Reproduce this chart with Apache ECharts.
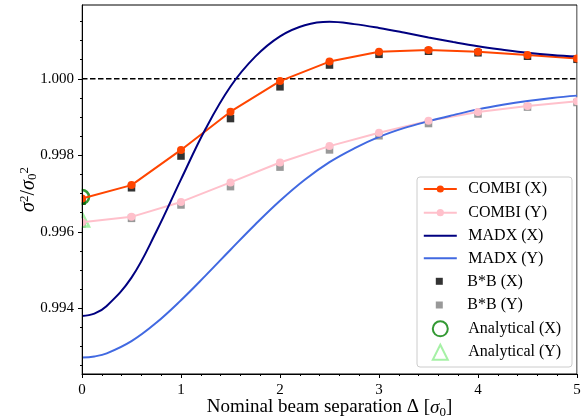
<!DOCTYPE html>
<html><head><meta charset="utf-8">
<script src="https://cdn.jsdelivr.net/npm/echarts@6/dist/echarts.min.js"></script>
<style>html,body{margin:0;padding:0;background:#fff}#c{width:585px;height:416px}</style>
</head><body><div id="c"></div>
<script>
// ---- data ----
const xSep = [0, 0.5, 1, 1.5, 2, 2.5, 3, 3.5, 4, 4.5, 5];
const combiX = [0.99687, 0.99722, 0.99814, 0.99914, 0.99994, 1.00045, 1.00071, 1.00075, 1.00071, 1.00062, 1.00053];
const combiY = [0.99625, 0.99639, 0.99678, 0.99729, 0.99781, 0.99824, 0.99859, 0.99890, 0.99913, 0.99929, 0.99941];
const bbX = [0.99680, 0.99715, 0.99798, 0.99896, 0.99979, 1.00036, 1.00064, 1.00072, 1.00068, 1.00059, 1.00051];
const bbY = [0.99620, 0.99635, 0.99670, 0.99718, 0.99769, 0.99814, 0.99851, 0.99883, 0.99908, 0.99926, 0.99938];
const xMadx = [0, 0.125, 0.25, 0.5, 0.75, 1, 1.25, 1.5, 1.75, 2, 2.25, 2.5, 2.75, 3, 3.25, 3.5, 3.75, 4, 4.25, 4.5, 4.75, 5];
const madxX = [0.99380, 0.99386, 0.99406, 0.99480, 0.99600, 0.99737, 0.99870, 0.99980, 1.00058, 1.00111, 1.00140, 1.00149, 1.00143, 1.00133, 1.00121, 1.00108, 1.00096, 1.00085, 1.00076, 1.00068, 1.00062, 1.00058];
const madxY = [0.99271, 0.99274, 0.99282, 0.99314, 0.99362, 0.99421, 0.99486, 0.99553, 0.99619, 0.99681, 0.99736, 0.99782, 0.99818, 0.99848, 0.99871, 0.99889, 0.99905, 0.99920, 0.99932, 0.99942, 0.99950, 0.99956];
const analyticalXSep = [0];
const analyticalX = [0.99691];
const analyticalY = [0.99632];
const refLevel = 1.0;
const xRange = [0, 5];
const yRange = [0.99228, 1.00193];
const xTicks = [0, 1, 2, 3, 4, 5];
const yMajorTicks = [0.994, 0.996, 0.998, 1.000];
const yMinorTicks = [0.9925, 0.993, 0.9935, 0.994, 0.9945, 0.995, 0.9955, 0.996, 0.9965, 0.997, 0.9975, 0.998, 0.9985, 0.999, 0.9995, 1.000, 1.0005, 1.001, 1.0015];
const names = ['COMBI (X)', 'COMBI (Y)', 'MADX (X)', 'MADX (Y)', 'B*B (X)', 'B*B (Y)', 'Analytical (X)', 'Analytical (Y)'];
const colors = ['#ff4500', '#ffc0cb', '#000080', '#4169e1', '#000000', '#808080', '#008000', '#90ee90'];

// ---- layout ----
const FONT = 'Liberation Serif';
const W = 585, H = 416;
const G = {left: 82, top: 5, right: 8, bottom: 42};
const pair = (xs, ys) => xs.map((x, i) => [x, ys[i]]);

const legendRows = [189, 212.7, 235.7, 258.3, 281.3, 305, 328.3, 351.7];
const iconCenterX = 439.3, textX = 467.3;
function legendFor(i, w, h, hideSymbol) {
  const left = iconCenterX - w / 2;
  const item = hideSymbol ? {name: names[i], itemStyle: {color: 'rgba(0,0,0,0)', borderWidth: 0, opacity: 0}} : {name: names[i]};
  return {
    data: [item], orient: 'vertical', left: left, top: legendRows[i] - 8,
    padding: 0, itemWidth: w, itemHeight: h, selectedMode: false, zlevel: 1, z: 6,
    textStyle: {fontFamily: FONT, fontSize: 16, color: '#000', padding: [0, 0, 0, textX - (left + w + 5)]}
  };
}

const option = {
  animation: false,
  grid: {left: G.left, top: G.top, right: G.right, bottom: G.bottom, show: true, borderColor: '#000', borderWidth: 1,
    backgroundColor: 'transparent', containLabel: false, outerBoundsMode: 'none'},
  xAxis: {
    type: 'value', min: xRange[0], max: xRange[1], interval: 1, zlevel: 1, z: 10,
    axisLine: {show: true, lineStyle: {color: '#000', width: 1}},
    axisTick: {show: true, length: 4, lineStyle: {color: '#000'}},
    minorTick: {show: true, splitNumber: 5, length: 2, lineStyle: {color: '#000'}},
    splitLine: {show: false}, minorSplitLine: {show: false},
    axisLabel: {fontFamily: FONT, fontSize: 15, color: '#000', margin: 9, formatter: v => xTicks.includes(v) ? String(v) : ''},
    name: 'Nominal beam separation Δ [{i|σ}{s|0}]', nameLocation: 'middle', nameGap: 22, nameMoveOverlap: false,
    nameTextStyle: {fontFamily: FONT, fontSize: 19, color: '#000',
      rich: {i: {fontFamily: FONT, fontSize: 19, fontStyle: 'italic'}, s: {fontFamily: FONT, fontSize: 13, verticalAlign: 'bottom', padding: [10, 0, 0, 0]}}}
  },
  yAxis: [{
    type: 'value', min: yRange[0], max: yRange[1], zlevel: 1, z: 10,
    axisLine: {show: true, lineStyle: {color: '#000', width: 1}},
    axisTick: {show: true, length: 4, lineStyle: {color: '#000'}, customValues: yMajorTicks},
    splitLine: {show: false},
    axisLabel: {fontFamily: FONT, fontSize: 15, color: '#000', margin: 8, customValues: yMajorTicks, formatter: v => v.toFixed(3)},
    name: '{i|σ}{p|2}/{i|σ}{s|0}{p|2}', nameLocation: 'middle', nameGap: 43, nameMoveOverlap: false,
    nameTextStyle: {fontFamily: FONT, fontSize: 20, color: '#000',
      rich: {i: {fontFamily: FONT, fontSize: 20, fontStyle: 'italic'},
             p: {fontFamily: FONT, fontSize: 13, verticalAlign: 'top'},
             s: {fontFamily: FONT, fontSize: 13, verticalAlign: 'bottom', padding: [8, 0, 0, 0]}}}
  }, {
    type: 'value', min: yRange[0], max: yRange[1], position: 'left', zlevel: 1, z: 10,
    axisLine: {show: false},
    axisTick: {show: true, length: 2, lineStyle: {color: '#000'}, customValues: yMinorTicks},
    axisLabel: {show: false}, splitLine: {show: false}
  }],
  legend: [
    legendFor(0, 33, 9), legendFor(1, 33, 9), legendFor(2, 33, 9, true), legendFor(3, 33, 9, true),
    legendFor(4, 7, 7), legendFor(5, 7, 7), legendFor(6, 15, 15), legendFor(7, 15, 15)
  ],
  graphic: [
    {type: 'rect', zlevel: 1, z: 5, shape: {x: 417, y: 177, width: 155, height: 190, r: 3}, style: {fill: 'rgba(255,255,255,0.8)', stroke: '#cccccc', lineWidth: 1}},
    {type: 'rect', zlevel: 1, z: 5, silent: true, shape: {x: 30, y: 1, width: G.left - 30 - 0.5, height: H - G.bottom - 1}, style: {fill: '#fff'}},
    {type: 'rect', zlevel: 1, z: 5, silent: true, shape: {x: W - G.right + 0.5, y: G.top, width: G.right, height: H - G.top - G.bottom}, style: {fill: '#fff'}}
  ],
  series: [
    {name: names[0], type: 'line', data: pair(xSep, combiX), color: colors[0], symbol: 'circle', symbolSize: 8, lineStyle: {width: 2}},
    {name: names[1], type: 'line', data: pair(xSep, combiY), color: colors[1], symbol: 'circle', symbolSize: 8, lineStyle: {width: 2}},
    {name: names[2], type: 'line', data: pair(xMadx, madxX), color: colors[2], symbol: 'none', smooth: 0.4, lineStyle: {width: 2}},
    {name: names[3], type: 'line', data: pair(xMadx, madxY), color: colors[3], symbol: 'none', smooth: 0.4, lineStyle: {width: 2}},
    {name: names[4], type: 'scatter', data: pair(xSep, bbX), color: colors[4], symbol: 'rect', symbolSize: 7.5},
    {name: names[5], type: 'scatter', data: pair(xSep, bbY), color: colors[5], symbol: 'rect', symbolSize: 7.5},
    {name: names[6], type: 'scatter', data: pair(analyticalXSep, analyticalX), symbol: 'circle', symbolSize: 14,
      itemStyle: {color: 'rgba(0,0,0,0)', borderColor: colors[6], borderWidth: 2.5}},
    {name: names[7], type: 'scatter', data: pair(analyticalXSep, analyticalY), symbol: 'triangle', symbolSize: 14,
      itemStyle: {color: 'rgba(0,0,0,0)', borderColor: colors[7], borderWidth: 2.5}},
    {name: 'ref', type: 'line', data: pair(xRange, [refLevel, refLevel]), symbol: 'none', color: '#000',
      lineStyle: {width: 1.6, type: [5.5, 2.5], color: '#000'}, z: 1}
  ]
};
echarts.init(document.getElementById('c'), null, {renderer: 'canvas'}).setOption(option);
</script></body></html>
